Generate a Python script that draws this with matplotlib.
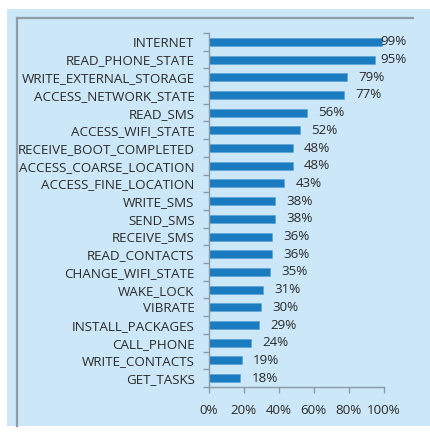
import matplotlib
matplotlib.use("Agg")
import matplotlib.pyplot as plt
from matplotlib.patches import Rectangle
from matplotlib.lines import Line2D
import numpy as np

permissions = ["INTERNET", "READ_PHONE_STATE", "WRITE_EXTERNAL_STORAGE",
               "ACCESS_NETWORK_STATE", "READ_SMS", "ACCESS_WIFI_STATE",
               "RECEIVE_BOOT_COMPLETED", "ACCESS_COARSE_LOCATION",
               "ACCESS_FINE_LOCATION", "WRITE_SMS", "SEND_SMS", "RECEIVE_SMS",
               "READ_CONTACTS", "CHANGE_WIFI_STATE", "WAKE_LOCK", "VIBRATE",
               "INSTALL_PACKAGES", "CALL_PHONE", "WRITE_CONTACTS", "GET_TASKS"]
share = [99, 95, 79, 77, 56, 52, 48, 48, 43, 38, 38, 36, 36, 35, 31, 30, 29,
         24, 19, 18]
xticks = [0, 20, 40, 60, 80, 100]

plt.rcParams['font.family'] = ['Open Sans', 'DejaVu Sans']

bar_col = '#1a7bc0'
text_col = '#2a2a2a'
axis_col = '#8a9aa6'
fs = 9.6

fig = plt.figure(figsize=(4.30, 4.32), dpi=100)
fig.patch.set_facecolor('white')

# light blue panel plus grey frame lines on top and left
fig.patches.append(Rectangle((7/430, 1 - 426/432), 1 - 7/430, (426 - 9)/432,
                             transform=fig.transFigure, facecolor='#cce8f8',
                             edgecolor='none', zorder=-10))
fig.lines.append(Line2D([17/430, 17/430], [1 - 426/432, 1 - 18/432],
                        transform=fig.transFigure, color='#8f9ca6', lw=1.6,
                        zorder=-5))
fig.lines.append(Line2D([17/430, 413/430], [1 - 18/432, 1 - 18/432],
                        transform=fig.transFigure, color='#8f9ca6', lw=1.6,
                        zorder=-5))

ax = fig.add_axes([208.5/430, 1 - 387/432, (384 - 208.5)/430, (387 - 33)/432])
ax.set_facecolor('none')
ax.set_zorder(5)

y = np.arange(len(permissions))
ax.barh(y, share, height=0.45, color=bar_col, edgecolor='#5aa0d4', lw=0.4)

# value labels, kept inside the plot region on the right
for yi, v in zip(y, share):
    ax.text(min(v + 6.5, 98.0), yi, f"{v}%", va='center', ha='left',
            fontsize=fs, color=text_col)

ax.set_xlim(0, 100)
ax.set_ylim(len(permissions) - 0.5, -0.5)
ax.set_xticks(xticks)
ax.set_xticklabels([f"{t}%" for t in xticks])
ax.set_yticks(y)
ax.set_yticklabels(permissions)
ax.set_yticks(np.arange(len(permissions) + 1) - 0.5, minor=True)

ax.tick_params(axis='y', which='major', length=0, pad=10, labelsize=fs,
               labelcolor=text_col)
ax.tick_params(axis='y', which='minor', length=4, color=axis_col, width=1)
ax.tick_params(axis='x', length=4, color=axis_col, width=1, pad=8,
               labelsize=fs, labelcolor=text_col)

for s in ['top', 'right']:
    ax.spines[s].set_visible(False)
for s in ['left', 'bottom']:
    ax.spines[s].set_color(axis_col)
    ax.spines[s].set_linewidth(1)

fig.savefig("out.png", dpi=100)
